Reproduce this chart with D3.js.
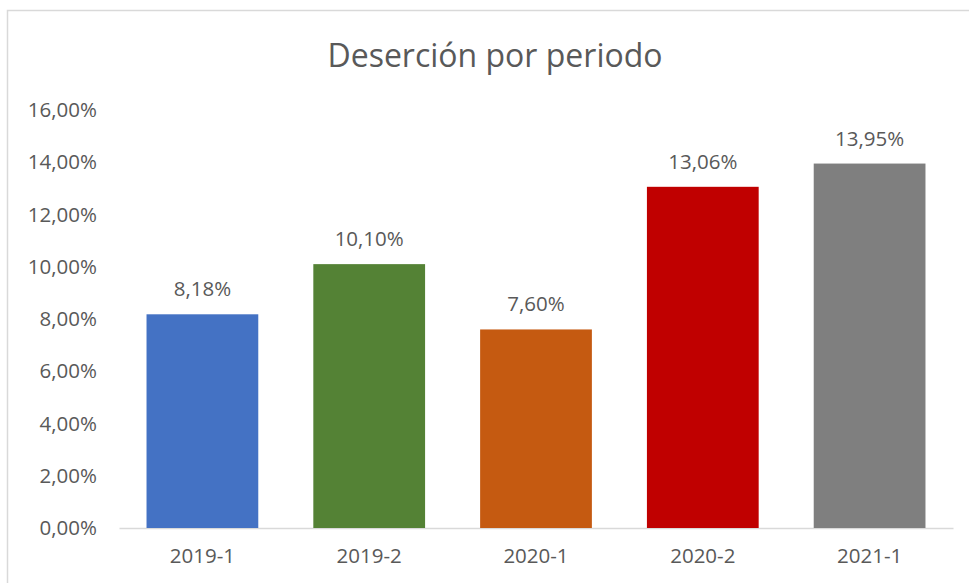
<!DOCTYPE html>
<meta charset="utf-8">
<style>
body { margin: 0; background: #fff; }
text { font-family: "Open Sans", sans-serif; fill: #595959; }
</style>
<body>
<script src="https://d3js.org/d3.v7.min.js"></script>
<script>

const periods = ["2019-1", "2019-2", "2020-1", "2020-2", "2021-1"];
const rates = [8.18, 10.10, 7.60, 13.06, 13.95];
const barColors = ["#4472C4", "#548235", "#C55A11", "#C00000", "#7F7F7F"];
const yTicks = [0, 2, 4, 6, 8, 10, 12, 14, 16];

var W = 969, H = 583;
var margin = {top: 110, right: 16, bottom: 55, left: 119},
    width = 953 - margin.left,
    height = 528 - margin.top;

var svg = d3.select("body").append("svg")
    .attr("width", W)
    .attr("height", H);

// chart border
svg.append("rect")
    .attr("x", 7.5).attr("y", 10.5)
    .attr("width", W + 10).attr("height", H + 10)
    .attr("fill", "none")
    .attr("stroke", "#D9D9D9")
    .attr("stroke-width", 1.5);

svg.append("text")
    .attr("x", 495)
    .attr("y", 67)
    .attr("text-anchor", "middle")
    .attr("font-size", "32px")
    .text("Deserción por periodo");

var g = svg.append("g")
    .attr("transform", "translate(" + margin.left + "," + margin.top + ")");

var x = d3.scaleBand().domain(periods).range([0, width]).paddingInner(0.33).paddingOuter(0.165);
var y = d3.scaleLinear().domain([0, 16]).range([height, 0]);

var fmt = function(v) { return v.toFixed(2).replace(".", ",") + "%"; };

var yAxis = g.append("g")
    .call(d3.axisLeft(y).tickValues(yTicks).tickSize(0).tickPadding(22).tickFormat(fmt));
yAxis.select(".domain").remove();
yAxis.selectAll("text").attr("font-size", "20.5px").attr("fill", "#595959").attr("font-family", "Open Sans, sans-serif");

var xAxis = g.append("g")
    .attr("transform", "translate(0," + height + ")")
    .call(d3.axisBottom(x).tickSize(0).tickPadding(20));
xAxis.select(".domain").attr("stroke", "#D9D9D9").attr("stroke-width", 1.5);
xAxis.selectAll("text").attr("font-size", "20.5px").attr("fill", "#595959").attr("font-family", "Open Sans, sans-serif");

g.selectAll(".bar")
    .data(periods)
    .enter().append("rect")
    .attr("class", "bar")
    .attr("x", function(d) { return x(d); })
    .attr("width", x.bandwidth())
    .attr("y", function(d, i) { return y(rates[i]); })
    .attr("height", function(d, i) { return height - y(rates[i]); })
    .attr("fill", function(d, i) { return barColors[i]; });

g.selectAll(".label")
    .data(periods)
    .enter().append("text")
    .attr("class", "label")
    .attr("x", function(d) { return x(d) + x.bandwidth() / 2; })
    .attr("y", function(d, i) { return y(rates[i]) - 18; })
    .attr("text-anchor", "middle")
    .attr("font-size", "20.5px")
    .text(function(d, i) { return fmt(rates[i]); });
</script>
</body>
